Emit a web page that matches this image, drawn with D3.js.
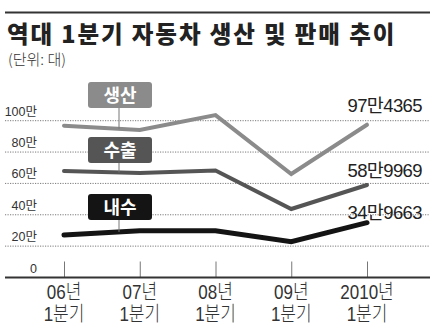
<!DOCTYPE html>
<html>
<head>
<meta charset="utf-8">
<script src="https://cdn.jsdelivr.net/npm/d3@7"></script>
<style>
  html, body { margin: 0; padding: 0; background: #fff; }
  svg { display: block; }
</style>
</head>
<body>
<svg id="chart" width="438" height="334"></svg>
<script>
// 분기별 자동차 생산·수출·내수 (단위: 만 대)
const years = ["06년", "07년", "08년", "09년", "2010년"];
const quarterLabel = "1분기";
const production = [96.8, 94.1, 103.6, 66.0, 97.4365];
const exports_ = [67.9, 66.6, 68.2, 43.7, 58.9969];
const domestic = [27.1, 29.8, 29.8, 22.8, 34.9663];
const yTicks = [0, 20, 40, 60, 80, 100];
const endLabels = ["97만4365", "58만9969", "34만9663"];
const seriesNames = ["생산", "수출", "내수"];

const series = [
  { name: seriesNames[0], values: production, end: endLabels[0], color: "#8b8b8b", width: 4 },
  { name: seriesNames[1], values: exports_,   end: endLabels[1], color: "#555555", width: 4 },
  { name: seriesNames[2], values: domestic,   end: endLabels[2], color: "#141414", width: 5 }
];

const svg = d3.select("#chart");
const KR = "'Noto Sans CJK KR', 'Noto Sans', sans-serif";
const SANS = "'Liberation Sans', 'Noto Sans CJK KR', sans-serif";

const x = d3.scalePoint().domain(years).range([64, 367]);
const y = d3.scaleLinear().domain([0, 100]).range([277.5, 120.7]);
const left = 5, right = 430;

// 상단 구분선
svg.append("line").attr("x1", left).attr("x2", right).attr("y1", 12.5).attr("y2", 12.5)
  .attr("stroke", "#333").attr("stroke-width", 2);

// 제목
svg.append("text").attr("x", 7).attr("y", 43)
  .attr("font-family", KR).attr("font-weight", 900).attr("font-size", 23.5)
  .attr("fill", "#222").attr("letter-spacing", 1.9)
  .text("역대 1분기 자동차 생산 및 판매 추이");
svg.append("text").attr("x", 8).attr("y", 65)
  .attr("font-family", KR).attr("font-weight", 300).attr("font-size", 15)
  .attr("fill", "#333")
  .text("(단위: 대)");

// 눈금선 (점선)
const grid = svg.append("g");
grid.selectAll("line").data(yTicks.filter(d => d > 0)).join("line")
  .attr("x1", left).attr("x2", right)
  .attr("y1", d => y(d)).attr("y2", d => y(d))
  .attr("stroke", "#7a7a7a").attr("stroke-width", 1).attr("stroke-dasharray", "1.2,1.3");

// y축 라벨
svg.append("g").selectAll("text").data(yTicks).join("text")
  .attr("x", 37).attr("y", d => y(d) - 5)
  .attr("text-anchor", "end")
  .attr("font-family", SANS)
  .attr("font-size", 12.5).attr("fill", "#333")
  .text(d => d === 0 ? "0" : d + "만");

// x축
const xAxis = d3.axisBottom(x).tickSize(-16).tickFormat("");
const gx = svg.append("g").attr("transform", `translate(0,${y(0)})`).call(xAxis);
gx.select(".domain").remove();
gx.selectAll(".tick line").attr("stroke", "#777").attr("stroke-width", 1);
svg.append("line").attr("x1", left).attr("x2", right).attr("y1", y(0)).attr("y2", y(0))
  .attr("stroke", "#333").attr("stroke-width", 2);

// x축 라벨: 좁은 글꼴 느낌을 위해 가로로 압축
const xl = svg.append("g").selectAll("g").data(years).join("g")
  .attr("transform", d => `translate(${x(d)},0) scale(0.85,1)`);
xl.append("text").attr("y", 299.5).attr("text-anchor", "middle")
  .attr("font-family", SANS).attr("font-weight", 300)
  .attr("font-size", 20).attr("fill", "#333").text(d => d);
xl.append("text").attr("y", 321).attr("text-anchor", "middle")
  .attr("font-family", SANS).attr("font-weight", 300)
  .attr("font-size", 20).attr("fill", "#333").text(quarterLabel);

// 계열 선
const line = d3.line().x((d, i) => x(years[i])).y(d => y(d));
svg.append("g").selectAll("path").data(series).join("path")
  .attr("d", s => line(s.values))
  .attr("fill", "none").attr("stroke", s => s.color).attr("stroke-width", s => s.width)
  .attr("stroke-linejoin", "miter").attr("stroke-linecap", "round");

// 계열 이름 상자와 연결선
const boxX = 88, boxW = 64, boxH = 26, connX = 119;
const boxTops = [82, 137, 194];
const boxes = svg.append("g").selectAll("g").data(series).join("g");
boxes.append("line")
  .attr("x1", connX).attr("x2", connX)
  .attr("y1", (s, i) => boxTops[i] + boxH)
  .attr("y2", s => {
    const t = (connX - x(years[0])) / (x(years[1]) - x(years[0]));
    return y(s.values[0] + (s.values[1] - s.values[0]) * t);
  })
  .attr("stroke", "#777").attr("stroke-width", 1);
boxes.append("rect")
  .attr("x", boxX).attr("y", (s, i) => boxTops[i])
  .attr("width", boxW).attr("height", boxH).attr("rx", 3)
  .attr("fill", s => s.color);
boxes.append("text")
  .attr("x", boxX + boxW / 2).attr("y", (s, i) => boxTops[i] + 19.5)
  .attr("text-anchor", "middle")
  .attr("font-family", KR).attr("font-weight", 700).attr("font-size", 18)
  .attr("fill", "#fff")
  .text(s => s.name);

// 2010년 값 라벨
const endY = [112, 177, 219];
svg.append("g").selectAll("text").data(series).join("text")
  .attr("x", 422).attr("y", (s, i) => endY[i])
  .attr("text-anchor", "end")
  .attr("font-family", SANS)
  .attr("font-size", 18.5).attr("fill", "#222").attr("letter-spacing", -0.6)
  .text(s => s.end);
</script>
</body>
</html>
